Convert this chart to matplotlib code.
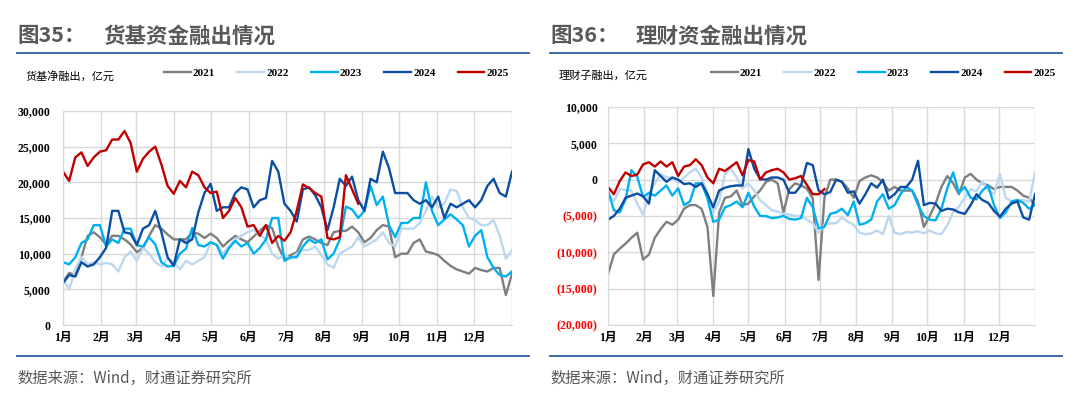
import numpy as np
import matplotlib
matplotlib.use('Agg')
import matplotlib.pyplot as plt
from matplotlib.lines import Line2D

plt.rcParams['font.family'] = ['Noto Sans CJK SC', 'DejaVu Sans']

# x axis: day of year, one reading every 5 days
days = np.arange(0, 366, 5)
years = ['2021', '2022', '2023', '2024', '2025']
colors = ['#7F7F7F', '#BDD7EE', '#00B0F0', '#0B4EA2', '#C00000']
month_days = [0, 31, 59, 90, 120, 151, 181, 212, 243, 273, 304, 334, 365]
month_labels = ['1月', '2月', '3月', '4月', '5月', '6月', '7月', '8月', '9月',
                '10月', '11月', '12月', '']

# 货基净融出 (千亿元 -> x1000 = 亿元)
mmf_2021 = [6.0, 7.3, 7.0, 9.5, 12.5, 13.0, 12.3, 11.3, 12.5, 12.5,
            12.0, 11.3, 10.2, 10.8, 12.5, 14.0, 13.5, 12.7, 12.0, 12.0,
            12.0, 13.0, 12.8, 12.2, 12.8, 12.2, 11.0, 11.8, 12.5, 12.0,
            11.6, 12.4, 13.2, 14.0, 13.6, 11.0, 9.2, 9.8, 10.2, 12.0,
            12.4, 12.0, 11.5, 11.2, 13.0, 13.2, 13.2, 13.8, 13.0, 11.6,
            12.2, 13.3, 14.0, 13.8, 9.5, 10.0, 10.0, 11.5, 12.0, 10.3,
            10.1, 9.8, 9.0, 8.3, 7.8, 7.5, 7.2, 8.0, 7.7, 7.5,
            8.0, 8.0, 4.2, 7.2]
mmf_2022 = [6.5, 5.0, 7.8, 9.6, 8.5, 8.8, 8.5, 8.7, 8.5, 7.5,
            9.5, 10.3, 9.0, 10.8, 10.0, 8.8, 8.2, 9.3, 8.8, 7.8,
            9.0, 8.5, 9.0, 9.5, 11.5, 11.3, 10.0, 11.0, 12.0, 12.5,
            13.0, 13.3, 12.7, 12.0, 10.0, 9.3, 9.8, 9.3, 10.0, 10.5,
            10.5, 11.0, 9.8, 8.5, 8.0, 10.0, 10.5, 11.0, 12.3, 11.0,
            11.5, 12.0, 13.0, 11.5, 11.0, 13.5, 13.5, 13.5, 14.3, 16.0,
            18.0, 16.5, 17.0, 19.0, 18.8, 16.5, 15.0, 14.7, 14.0, 14.0,
            14.7, 12.5, 9.3, 10.5]
mmf_2023 = [8.8, 8.5, 9.5, 11.5, 12.0, 14.0, 14.0, 11.0, 12.0, 11.5,
            13.5, 13.5, 11.2, 11.0, 12.3, 11.3, 8.8, 8.2, 8.3, 10.0,
            10.7, 13.6, 11.2, 11.0, 11.6, 11.2, 9.3, 10.8, 11.8, 11.0,
            11.5, 10.0, 10.8, 12.0, 15.0, 15.0, 9.0, 9.5, 9.5, 11.0,
            12.0, 11.5, 12.0, 9.2, 10.0, 12.0, 16.6, 16.2, 15.0, 16.0,
            19.5, 16.8, 18.0, 14.0, 12.3, 14.3, 14.3, 15.0, 15.0, 20.0,
            16.0, 14.0, 14.8, 15.5, 14.8, 14.0, 11.0, 12.5, 13.3, 9.5,
            8.0, 7.0, 6.8, 7.5]
mmf_2024 = [5.9, 7.0, 6.8, 8.8, 8.2, 8.5, 9.5, 10.8, 16.0, 16.0,
            13.0, 12.8, 11.2, 13.5, 14.0, 16.0, 13.0, 9.5, 8.3, 12.0,
            11.5, 12.0, 15.8, 18.5, 19.8, 16.0, 16.5, 16.5, 18.5, 19.3,
            19.0, 16.5, 17.5, 17.8, 23.0, 21.5, 17.0, 16.0, 14.5, 19.0,
            19.3, 18.2, 16.5, 13.3, 16.5, 20.5, 19.5, 20.8, 17.5, 16.0,
            20.5, 20.0, 24.3, 22.0, 18.5, 18.5, 18.5, 17.5, 17.0, 17.5,
            16.5, 18.0, 15.0, 17.0, 16.5, 17.0, 17.5, 16.5, 17.5, 19.5,
            20.5, 18.5, 18.0, 21.5]
mmf_2025 = [21.5, 20.2, 23.5, 24.2, 22.3, 23.5, 24.3, 24.5, 26.0, 26.0,
            27.2, 25.5, 21.5, 23.3, 24.3, 25.0, 22.5, 19.5, 18.4, 20.2,
            19.3, 21.5, 21.0, 19.3, 18.5, 18.7, 15.0, 16.0, 17.8, 16.5,
            13.8, 14.0, 12.5, 14.0, 11.5, 12.5, 11.8, 13.0, 16.0, 19.7,
            19.2, 18.5, 18.0, 12.2, 12.0, 12.3, 21.0, 19.0, 17.0]

# 理财子融出 (千亿元)
wm_2021 = [-13.0, -10.3, -9.5, -8.8, -8.0, -7.3, -11.0, -10.3, -8.0, -6.8,
           -5.8, -6.2, -5.5, -4.0, -3.5, -3.5, -4.0, -6.5, -16.0, -4.5,
           -2.5, -2.3, -1.5, -3.5, -3.3, -2.3, -1.5, -0.3, 0.0, -0.5,
           -4.5, -1.3, -0.5, -0.8, -1.2, -2.6, -13.8, -2.5, 0.0, 0.0,
           -0.3, -1.2, -2.5, -0.2, 0.3, 0.6, 0.3, -0.3, -1.5, -1.0,
           -1.5, -1.5, -1.5, -3.0, -6.5, -5.0, -3.3, -1.0, 0.5, -0.5,
           -2.0, 0.3, 0.8, 0.0, -0.5, -0.8, -1.3, -1.0, -1.0, -1.0,
           -1.5, -2.2, -2.5, -3.5]
wm_2022 = [-2.0, -3.0, -1.3, -1.4, -1.5, -3.3, -4.8, -2.0, -0.5, 0.8,
           0.3, 0.3, -0.4, 0.3, 1.0, 1.5, 0.3, -1.8, -4.5, -3.0,
           0.8, 1.5, 0.3, -1.2, -0.5, -1.5, -2.8, -3.5, -4.2, -4.4,
           -4.7, -4.8, -5.0, -5.0, -5.5, -6.0, -7.3, -6.2, -6.0, -6.0,
           -5.2, -5.8, -6.2, -7.3, -7.5, -7.4, -7.0, -7.5, -5.0, -7.3,
           -7.5, -7.2, -7.3, -7.1, -7.4, -7.0, -7.4, -7.5, -6.3, -4.5,
           -3.7, -2.5, -1.3, -1.6, -0.2, -1.5, -2.0, 0.8, -2.5, -3.0,
           -2.8, -2.8, -3.0, 1.0]
wm_2023 = [-1.5, -4.2, -4.5, -2.7, 1.3, 0.4, -2.4, -1.8, -2.2, -1.5,
           -0.8, -2.2, -1.2, -3.5, -3.0, -0.5, -0.5, -2.6, -5.8, -5.5,
           -3.8, -3.5, -3.0, -3.8, -1.8, -3.7, -5.0, -5.0, -5.3, -5.2,
           -5.0, -5.4, -5.5, -5.3, -2.5, -3.8, -6.7, -6.5, -4.7, -4.5,
           -4.0, -4.9, -3.0, -6.2, -6.0, -5.5, -3.0, -2.0, -4.0, -3.5,
           -2.0, -1.0, -1.5, -3.5, -5.0, -5.5, -5.6, -4.0, -1.2, 1.0,
           -1.8, -1.0, -2.5, -2.7, -1.5, -0.8, -3.5, -5.3, -4.5, -3.0,
           -2.8, -3.2, -4.0, -3.5]
wm_2024 = [-5.5, -5.0, -4.0, -2.5, -2.2, -1.9, -2.3, -3.3, 1.3, 0.5,
           -0.3, 0.3, 0.0, -0.6, -0.5, -1.0, -0.5, -2.0, -3.8, -1.5,
           -1.1, -0.9, -0.8, -0.8, 4.2, 1.5, 0.1, 0.0, 0.3, 0.3,
           0.0, -1.8, -1.8, -0.8, 2.3, 2.0, -1.5, -2.0, -1.7, 0.0,
           -0.3, -1.8, -1.6, -3.3, -2.0, -0.5, -1.1, 0.0, -2.6, -2.0,
           -1.0, -1.0, 0.0, 2.6, -3.5, -3.2, -3.3, -4.3, -4.0, -4.1,
           -4.5, -4.7, -3.5, -2.0, -2.8, -3.2, -4.3, -5.1, -4.0, -3.3,
           -3.0, -5.2, -5.5, -2.0]
wm_2025 = [-1.0, -2.0, -0.2, 1.0, 0.5, 0.7, 2.1, 2.4, 1.8, 2.5,
           1.8, 2.4, 0.5, 1.8, 2.0, 2.8, 2.0, 0.3, -0.5, 1.5,
           1.2, 1.8, 2.4, 0.6, 2.7, 2.5, 0.0, 1.0, 1.3, 1.5,
           1.0, 0.0, 0.2, 0.5, -0.7, -2.0, -2.0, -1.3]

W, H = 1080, 396
fig = plt.figure(figsize=(W / 100, H / 100), dpi=100)

serif = ['Liberation Serif', 'Noto Sans CJK SC']
grey_txt = '#595959'
rule_blue = '#2C5E9E'


def fig_xy(x, y):
    return x / W, 1 - y / H


def hrule(x0, x1, y):
    fig.add_artist(Line2D([x0 / W, x1 / W], [1 - y / H] * 2,
                          transform=fig.transFigure, color=rule_blue, lw=1.3))


def panel(box, series, ylim, ytick_pad, title_no, title, unit, leg_x, x0, x1):
    left, top, right, bottom = box
    ax = fig.add_axes([left / W, 1 - bottom / H, (right - left) / W, (bottom - top) / H])
    lines = []
    for vals, c, yr in zip(series, colors, years):
        v = np.array(vals) * 1000
        ln, = ax.plot(days[:len(v)], v, color=c, lw=1.7, label=yr)
        lines.append(ln)
    ax.set_xlim(0, 365)
    ax.set_ylim(*ylim)
    ax.set_xticks(month_days)
    ax.set_xticklabels(month_labels, family=serif, weight='bold', fontsize=8.5)
    yt = np.arange(ylim[0], ylim[1] + 1, 5000)
    ax.set_yticks(yt)
    ax.set_yticklabels([f'{t:,.0f}' if t >= 0 else f'({-t:,.0f})' for t in yt],
                       family=serif, weight='bold', fontsize=8.5)
    for lab, t in zip(ax.get_yticklabels(), yt):
        lab.set_color('#FF0000' if t < 0 else 'black')
    ax.tick_params(axis='both', length=0)
    ax.tick_params(axis='y', pad=ytick_pad)
    ax.tick_params(axis='x', pad=5)
    ax.grid(True, color='#D9D9D9', lw=1)
    ax.set_axisbelow(True)
    for s in ['top', 'right']:
        ax.spines[s].set_visible(False)
    for s in ['left', 'bottom']:
        ax.spines[s].set_color('#D9D9D9')

    # header
    fig.text(*fig_xy(x0, 36), title_no, fontsize=15.5, weight='bold',
             color=grey_txt, va='center', ha='left')
    fig.text(*fig_xy(x0 + 86, 36), title, fontsize=15.5, weight='bold',
             color=grey_txt, va='center', ha='left')
    hrule(x0, x1, 53)
    fig.text(*fig_xy(x0 + 9, 76), unit, fontsize=8, color='black',
             va='center', ha='left')
    fig.legend(lines, years, loc='center left', bbox_to_anchor=fig_xy(leg_x, 73),
               ncol=5, frameon=False, handlelength=2.4, handletextpad=0.2,
               columnspacing=2.0, borderpad=0, borderaxespad=0,
               prop=dict(family=serif, weight='bold', size=8))
    # footer
    hrule(x0, x1, 356)
    fig.text(*fig_xy(x0, 378), '数据来源：Wind，财通证券研究所', fontsize=11,
             color=grey_txt, va='center', ha='left')
    return ax


panel((63, 111, 512, 325), [mmf_2021, mmf_2022, mmf_2023, mmf_2024, mmf_2025],
      (0, 30000), 9, '图35：', '货基资金融出情况', '货基净融出，亿元', 164, 17, 529)
panel((608, 107, 1035, 325), [wm_2021, wm_2022, wm_2023, wm_2024, wm_2025],
      (-20000, 10000), 7.5, '图36：', '理财资金融出情况', '理财子融出，亿元', 711, 550, 1062)

fig.savefig('out.png', dpi=100)
